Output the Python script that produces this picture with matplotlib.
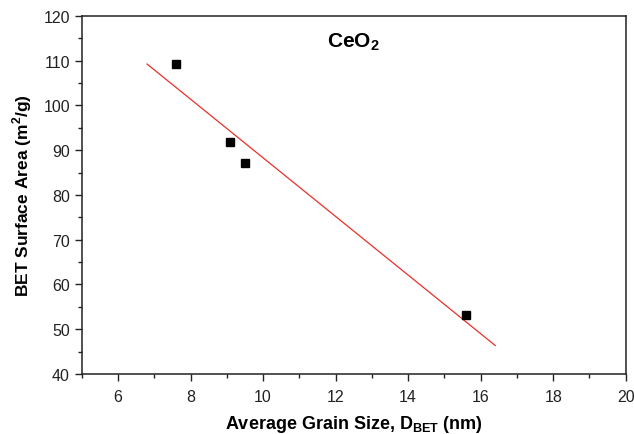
import numpy as np
import matplotlib.pyplot as plt
from matplotlib.ticker import MultipleLocator

plt.rcParams['font.family'] = ['Liberation Sans', 'DejaVu Sans']
plt.rcParams['mathtext.fontset'] = 'custom'
plt.rcParams['mathtext.rm'] = 'Liberation Sans'
plt.rcParams['mathtext.bf'] = 'Liberation Sans:bold'

# grain size (nm) vs BET surface area (m2/g)
grain_size = [7.6, 9.1, 9.5, 15.6]
surface_area = [109.3, 91.8, 87.2, 53.1]
fit_range = [6.8, 16.4]

fig = plt.figure(figsize=(6.34, 4.35), dpi=100)
ax = fig.add_axes([0.129, 0.138, 0.858, 0.823])

slope, icpt = np.polyfit(grain_size, surface_area, 1)
xf = np.array(fit_range)
ax.plot(xf, slope * xf + icpt, color='#e8302c', linewidth=0.9)
ax.plot(grain_size, surface_area, 's', color='black', markersize=5.5)

ax.set_xlim(5, 20)
ax.set_ylim(40, 120)
ax.xaxis.set_major_locator(MultipleLocator(2))
ax.xaxis.set_minor_locator(MultipleLocator(1))
ax.yaxis.set_major_locator(MultipleLocator(10))
ax.yaxis.set_minor_locator(MultipleLocator(5))
ax.tick_params(which='both', direction='out', top=False, right=False, labelsize=11.5, width=1, colors='#222222')
ax.tick_params(which='major', length=5)
ax.tick_params(which='minor', length=3)
ax.tick_params(axis='x', pad=6)
for s in ax.spines.values():
    s.set_linewidth(1.1)
    s.set_color('#222222')

ax.text(11.75, 114.3, r'CeO$_\mathbf{2}$', fontsize=15, fontweight='bold', va='center')
ax.set_xlabel(r'Average Grain Size, D$_\mathbf{BET}$ (nm)', fontsize=13, fontweight='bold', labelpad=6)
ax.set_ylabel(r'BET Surface Area (m$^\mathbf{2}$/g)', fontsize=12.5, fontweight='bold', labelpad=7)

fig.savefig('out.png', dpi=100)
